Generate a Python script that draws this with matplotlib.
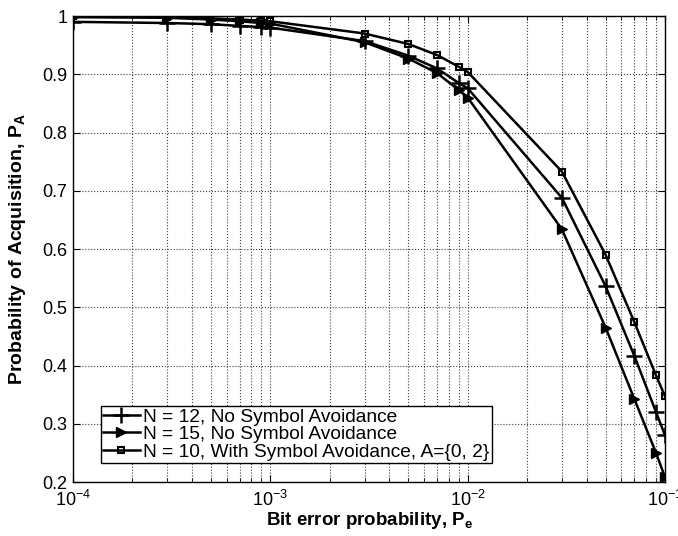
import matplotlib
matplotlib.use("Agg")
import matplotlib.pyplot as plt
from matplotlib.ticker import LogLocator, NullFormatter, MultipleLocator, FuncFormatter

plt.rcParams["font.family"] = ["Liberation Sans", "DejaVu Sans"]
plt.rcParams["mathtext.fontset"] = "custom"
plt.rcParams["mathtext.rm"] = "Liberation Sans"
plt.rcParams["mathtext.it"] = "Liberation Sans"
plt.rcParams["mathtext.bf"] = "Liberation Sans:bold"

# Data
pe = [1e-4, 3e-4, 5e-4, 7e-4, 9e-4, 1e-3, 3e-3, 5e-3, 7e-3, 9e-3, 1e-2,
      3e-2, 5e-2, 7e-2, 9e-2, 1e-1]
pa_n12 = [0.990, 0.988, 0.986, 0.983, 0.981, 0.980, 0.957, 0.932, 0.910, 0.885, 0.876,
          0.688, 0.536, 0.416, 0.320, 0.280]
pa_n15 = [0.998, 0.997, 0.994, 0.991, 0.988, 0.987, 0.955, 0.927, 0.902, 0.873, 0.860,
          0.634, 0.465, 0.342, 0.250, 0.208]
pa_n10 = [1.000, 0.998, 0.996, 0.994, 0.992, 0.991, 0.970, 0.952, 0.933, 0.913, 0.904,
          0.733, 0.590, 0.474, 0.383, 0.347]
labels = ["N = 12, No Symbol Avoidance",
          "N = 15, No Symbol Avoidance",
          "N = 10, With Symbol Avoidance, A={0, 2}"]

fig = plt.figure(figsize=(6.78, 5.36), dpi=100)
ax = fig.add_axes([0.1077, 0.1007, 0.8732, 0.8694])

ax.plot(pe, pa_n12, "k-", marker="+", markersize=11, markeredgewidth=1.8, linewidth=1.8, label=labels[0])
ax.plot(pe, pa_n15, "k-", marker=">", markersize=7, markerfacecolor="k", linewidth=1.8, label=labels[1])
ax.plot(pe, pa_n10, "k-", marker="s", markersize=5, markerfacecolor="none", markeredgewidth=1.5,
        linewidth=1.8, label=labels[2])

ax.set_xscale("log")
ax.set_xlim(1e-4, 1e-1)
ax.set_ylim(0.2, 1.0)
ax.yaxis.set_major_locator(MultipleLocator(0.1))
ax.yaxis.set_major_formatter(FuncFormatter(lambda v, p: "1" if v >= 0.999 else f"{v:.1f}"))
ax.xaxis.set_major_locator(LogLocator(base=10, numticks=10))
ax.xaxis.set_minor_locator(LogLocator(base=10, subs=range(2, 10), numticks=20))
ax.xaxis.set_minor_formatter(NullFormatter())

ax.grid(True, which="major", linestyle=":", color="0.25", linewidth=0.8)
ax.grid(True, which="minor", axis="x", linestyle=":", color="0.25", linewidth=0.8)
ax.tick_params(which="both", direction="in", top=True, right=True, labelsize=13)
ax.tick_params(axis="y", pad=4)
ax.tick_params(axis="x", pad=6)
ax.tick_params(which="major", length=5)
ax.tick_params(which="minor", length=3)
for s in ax.spines.values():
    s.set_linewidth(1.0)

ax.set_xlabel("Bit error probability, P$_\\mathbf{e}$", fontsize=13.5, fontweight="bold", labelpad=0)
ax.set_ylabel("Probability of Acquisition, P$_\\mathbf{A}$", fontsize=14, fontweight="bold", labelpad=10)

leg = ax.legend(loc="lower left", bbox_to_anchor=(0.047, 0.041), fontsize=13.8, frameon=True,
                fancybox=False, edgecolor="k", framealpha=1, handlelength=1.9,
                borderpad=0.12, labelspacing=0.0, handletextpad=0.2, borderaxespad=0)
leg.get_frame().set_linewidth(1.0)

fig.savefig("out.png", dpi=100)
